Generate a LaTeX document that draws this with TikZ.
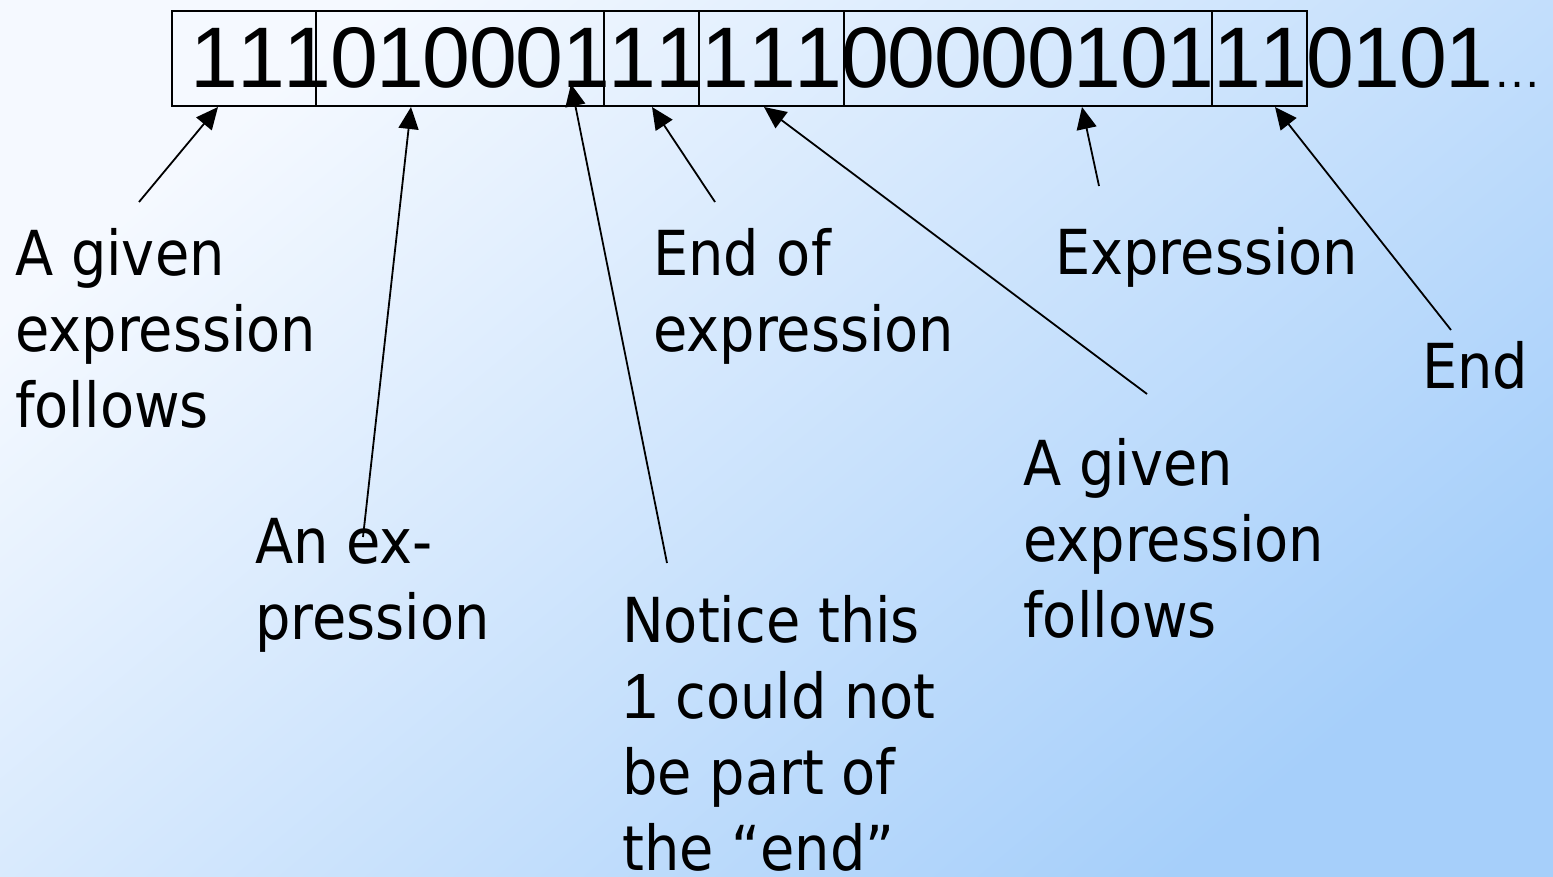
\documentclass[tikz,border=0pt]{standalone}
\usepackage{fontspec}
\setmainfont{DejaVu Sans}[FakeStretch=0.9]
\newfontfamily\digitfont{Liberation Sans}
\usetikzlibrary{arrows.meta}
\definecolor{bgtl}{HTML}{F5F9FF}
\definecolor{bgbr}{HTML}{A6CFFA}
\newcommand\mlines[1]{\begin{tabular}[t]{@{}l@{}}#1\end{tabular}}
\def\bitrow#1{\ifx#1\relax\else\makebox[46.5pt][c]{#1}\expandafter\bitrow\fi}
\begin{document}
\begin{tikzpicture}[x=1pt,y=-1pt,
  lbl/.style={anchor=base west, inner sep=0pt, font=\fontsize{62}{76}\selectfont},
  bitbox/.style={draw=black, line width=1.8pt, rectangle, inner sep=0pt, anchor=north west, minimum height=95pt},
  ptr/.style={line width=1.8pt, -{Triangle[length=22pt,width=20pt]}}]
\shade[top color=bgtl, bottom color=bgbr, shading angle=40] (0,0) rectangle (1553,877);
\useasboundingbox (0,0) rectangle (1553,877);
% boxes over the bit string
\node[bitbox, minimum width=144pt] (b1) at (171,10) {};
\node[bitbox, minimum width=288pt] (b2) at (315,10) {};
\node[bitbox, minimum width=95pt]  (b3) at (603,10) {};
\node[bitbox, minimum width=145pt] (b4) at (698,10) {};
\node[bitbox, minimum width=368pt] (b5) at (843,10) {};
\node[bitbox, minimum width=95pt]  (b6) at (1211,10) {};
% bit string
\node[anchor=base west, inner sep=0pt, font=\digitfont\fontsize{86}{90}\selectfont] (bits) at (191,88)
  {\bitrow1110100011111100000101110101\relax{\fontsize{48}{48}\selectfont …}};
% labels
\node[lbl] (l1) at (15,276) {\mlines{A given\\expression\\follows}};
\node[lbl] (l2) at (255,563) {\mlines{An ex-\\pression}};
\node[lbl] (l3) at (653,276) {\mlines{End of\\expression}};
\node[lbl] (l4) at (1055,275) {Expression};
\node[lbl] (l5) at (1422,388) {End};
\node[lbl] (l6) at (1023,485) {\mlines{A given\\expression\\follows}};
\node[lbl] (l7) at (622,642) {\mlines{Notice this\\{\digitfont\fontsize{64}{76}\selectfont 1} could not\\be part of\\the “end”}};
% arrow end points
\coordinate (s1) at (139,202); \coordinate (e1) at (218,107);
\coordinate (s2) at (363,537); \coordinate (e2) at (411,107);
\coordinate (s3) at (667,563); \coordinate (e3) at (571,84);
\coordinate (s4) at (715,202); \coordinate (e4) at (652,107);
\coordinate (s5) at (1147,394); \coordinate (e5) at (764,107);
\coordinate (s6) at (1099,186); \coordinate (e6) at (1082,107);
\coordinate (s7) at (1451,330); \coordinate (e7) at (1275,107);
\draw[ptr] (s1) -- (e1);
\draw[ptr] (s2) -- (e2);
\draw[ptr] (s3) -- (e3);
\draw[ptr] (s4) -- (e4);
\draw[ptr] (s5) -- (e5);
\draw[ptr] (s6) -- (e6);
\draw[ptr] (s7) -- (e7);
\end{tikzpicture}
\end{document}
